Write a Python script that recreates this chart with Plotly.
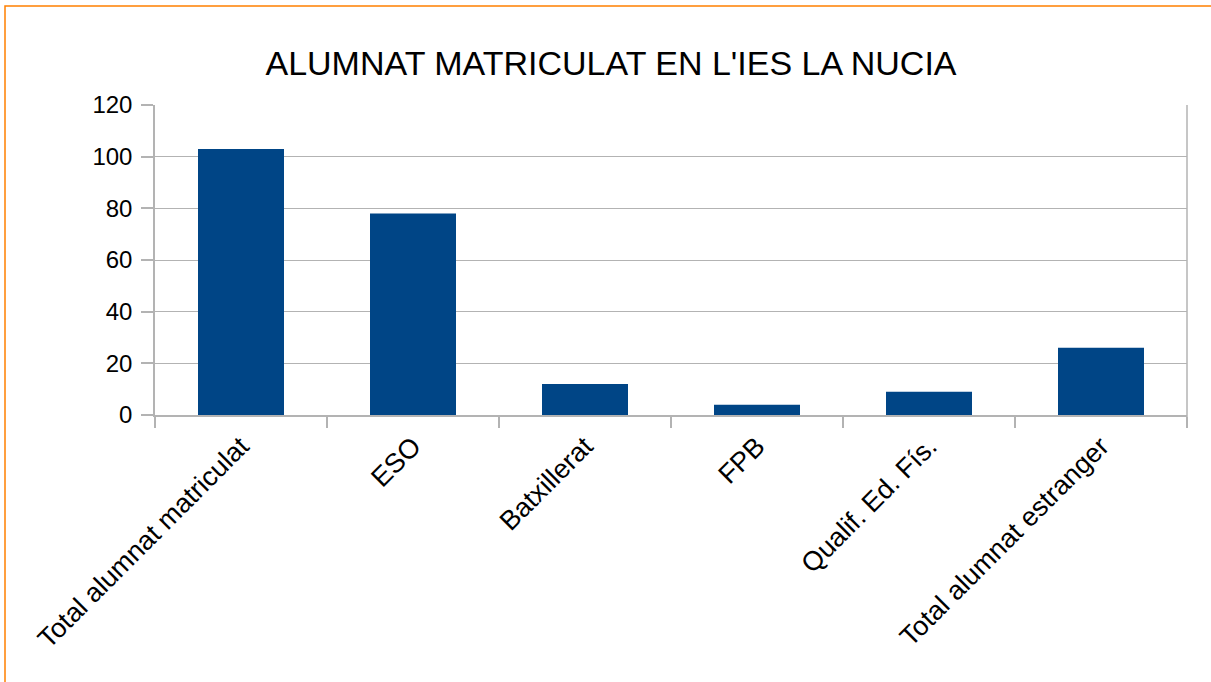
'''
    Bar chart of the students enrolled at IES La Nucia.
'''
import plotly.graph_objects as go

# Data
categories = [
    "Total alumnat matriculat",
    "ESO",
    "Batxillerat",
    "FPB",
    "Qualif. Ed. Fís.",
    "Total alumnat estranger",
]
students = [103, 78, 12, 4, 9, 26]
y_ticks = [0, 20, 40, 60, 80, 100, 120]

BAR_COLOR = "#004586"
GRID_COLOR = "#b3b3b3"
FONT = "Liberation Sans, Arial, sans-serif"

fig = go.Figure()

fig.add_trace(go.Bar(
    x=categories,
    y=students,
    marker=dict(color=BAR_COLOR, line=dict(width=0)),
    width=0.5,
))

fig.update_layout(
    width=1211, height=682,
    margin=dict(l=155, r=24, t=105, b=267),
    paper_bgcolor="white",
    plot_bgcolor="white",
    showlegend=False,
    font=dict(family=FONT, color="black", size=24),
    title=dict(
        text="ALUMNAT MATRICULAT EN L'IES LA NUCIA",
        x=611 / 1211, xref="container", xanchor="center",
        y=1 - 63 / 682, yref="container", yanchor="middle",
        font=dict(size=34, family=FONT, color="black"),
    ),
)

fig.update_xaxes(
    tickangle=-45,
    tickson="boundaries",
    ticks="outside", ticklen=11, tickcolor=GRID_COLOR, tickwidth=1.5,
    showline=True, linecolor=GRID_COLOR, linewidth=1.5,
    showgrid=False,
    tickfont=dict(size=27),
    ticklabelstandoff=3,
    fixedrange=True,
)

fig.update_yaxes(
    range=[0, 120],
    tickvals=y_ticks,
    ticks="outside", ticklen=12, tickcolor=GRID_COLOR, tickwidth=1.5,
    showline=True, linecolor=GRID_COLOR, linewidth=1.5,
    showgrid=True, gridcolor=GRID_COLOR, gridwidth=1,
    zeroline=False,
    tickfont=dict(size=24),
    ticklabelstandoff=4,
    fixedrange=True,
)

# Right-hand frame line of the plot area
fig.add_shape(
    type="line", xref="paper", yref="paper",
    x0=1, x1=1, y0=-12 / 310, y1=1,
    line=dict(color=GRID_COLOR, width=1.5),
)

# Orange border around the chart (cut off at right and bottom)
fig.add_shape(
    type="rect", xref="paper", yref="paper",
    x0=(5 - 155) / 1032, x1=1.2,
    y0=-1.2, y1=(415 - 6) / 310,
    line=dict(color="#ff8000", width=1.5),
    fillcolor="rgba(0,0,0,0)",
    layer="below",
)

# drop the default page margin so the figure sits at the window's corner
fig.write_html(
    "out.html",
    config={"displayModeBar": False},
    post_script="document.body.style.margin='0';",
)
